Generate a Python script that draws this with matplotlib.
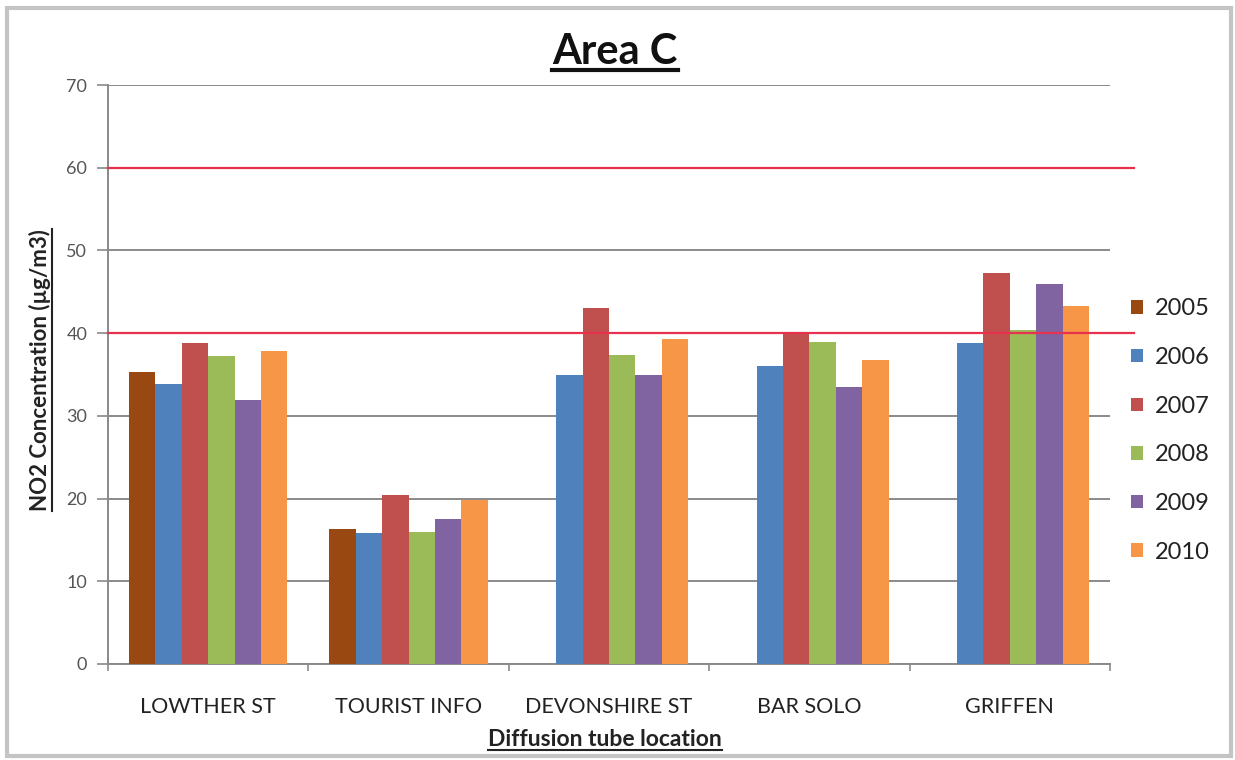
import numpy as np
import matplotlib.pyplot as plt
from matplotlib.lines import Line2D
from matplotlib.patches import Rectangle

plt.rcParams['font.family'] = ['Lato', 'DejaVu Sans']

locations = ['LOWTHER ST', 'TOURIST INFO', 'DEVONSHIRE ST', 'BAR SOLO', 'GRIFFEN']
years = ['2005', '2006', '2007', '2008', '2009', '2010']

# NO2 annual means per site (ug/m3), one list per year
no2_2005 = [35.3, 16.3, np.nan, np.nan, np.nan]
no2_2006 = [33.8, 15.8, 35.0, 36.0, 38.8]
no2_2007 = [38.8, 20.4, 43.0, 40.0, 47.3]
no2_2008 = [37.2, 16.0, 37.3, 38.9, 40.4]
no2_2009 = [31.9, 17.5, 34.9, 33.5, 46.0]
no2_2010 = [37.8, 19.8, 39.3, 36.7, 43.3]
series = [no2_2005, no2_2006, no2_2007, no2_2008, no2_2009, no2_2010]

colors = ['#9A4811', '#4F81BD', '#C0504D', '#9BBB59', '#8064A2', '#F79646']

# objective levels
limits = [40, 60]

fig = plt.figure(figsize=(12.35, 7.6), dpi=100)
ax = fig.add_axes([108 / 1235, 1 - 664 / 760, (1110 - 108) / 1235, (664 - 85) / 760])

x = np.arange(len(locations))
w = 0.79 / len(years)
for i, (vals, c) in enumerate(zip(series, colors)):
    ax.bar(x + (i - 2.5) * w, vals, width=w, color=c, label=years[i], zorder=3)

ax.set_xlim(-0.5, len(locations) - 0.5)
ax.set_ylim(0, 70)
ax.set_yticks(range(0, 71, 10))
ax.yaxis.grid(True, color='#8a8a8a', linewidth=1.4, zorder=0)
ax.tick_params(axis='y', length=8, width=1.2, color='#8a8a8a', labelsize=13,
               labelcolor='#555555', pad=7)
ax.set_xticks(x)
ax.set_xticklabels(locations, fontsize=15.5, color='#222222')
ax.set_xticks(np.arange(-0.5, len(locations)), minor=True)
ax.tick_params(axis='x', which='major', length=0, pad=24)
ax.tick_params(axis='x', which='minor', length=5, width=1.2, color='#8a8a8a')
for s in ['top', 'right']:
    ax.spines[s].set_visible(False)
for s in ['left', 'bottom']:
    ax.spines[s].set_color('#8a8a8a')
    ax.spines[s].set_linewidth(1.4)

# red limit lines run a little past the plot area
for lv in limits:
    ax.plot([-0.5, 4.62], [lv, lv], color='#E8314F', linewidth=1.6, zorder=4, clip_on=False)

# legend at right
leg = ax.legend(loc='upper left', bbox_to_anchor=(1.0, 0.668), frameon=False,
                fontsize=17, handlelength=0.5, handleheight=0.5, handletextpad=0.5,
                labelspacing=1.17, labelcolor='#222222')

title = fig.text(615 / 1235, 1 - 52 / 760, 'Area C', fontsize=30, fontweight='bold',
                 ha='center', va='center', color='#111111')
ylab = fig.text(40 / 1235, 1 - 370 / 760, 'NO2 Concentration (\u00b5g/m3)', fontsize=16,
                fontweight='bold', rotation=90, ha='center', va='center', color='#222222')
xlab = fig.text(605 / 1235, 1 - 740 / 760, 'Diffusion tube location', fontsize=16.5,
                fontweight='bold', ha='center', va='center', color='#222222')

# underline the titles
fig.canvas.draw()
r = fig.canvas.get_renderer()
for t, vertical in [(title, False), (ylab, True), (xlab, False)]:
    bb = t.get_window_extent(r)
    if vertical:
        px = bb.x1 + 1
        fig.add_artist(Line2D([px / fig.bbox.width] * 2,
                              [bb.y0 / fig.bbox.height, bb.y1 / fig.bbox.height],
                              color=t.get_color(), linewidth=1.5))
    else:
        py = bb.y0 + 1
        fig.add_artist(Line2D([bb.x0 / fig.bbox.width, bb.x1 / fig.bbox.width],
                              [py / fig.bbox.height] * 2,
                              color=t.get_color(), linewidth=3 if t is title else 1.5))

# chart frame
fig.add_artist(Rectangle((7 / 1235, 4 / 760), 1224 / 1235, 748 / 760, fill=False,
                         edgecolor='#c4c4c4', linewidth=3))

fig.savefig('out.png', dpi=100)
